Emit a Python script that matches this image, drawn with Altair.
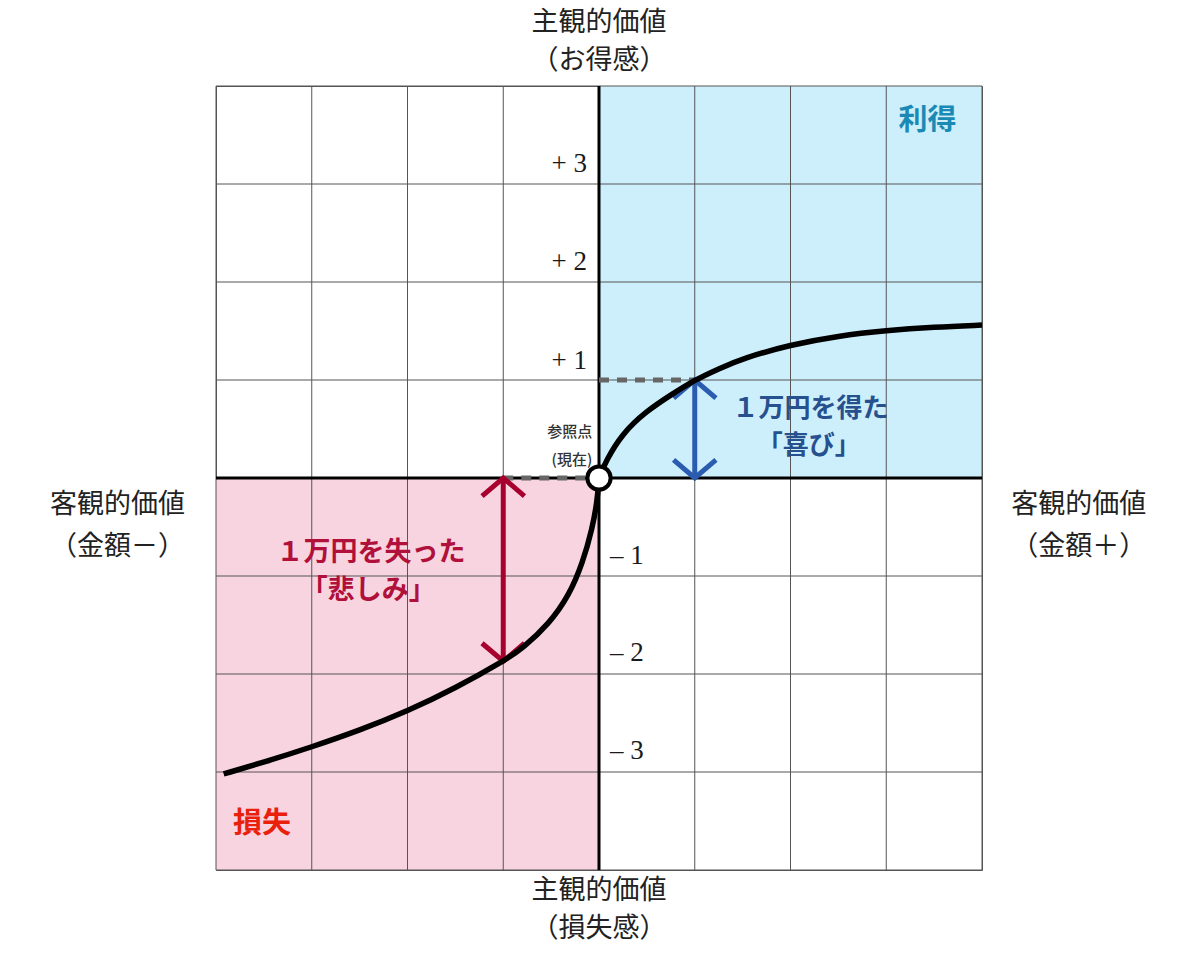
import altair as alt
import pandas as pd

# ---- data ----
grid_vals = [-4, -3, -2, -1, 0, 1, 2, 3, 4]

loss_x = [-3.92, -3.5, -3.0, -2.5, -2.0, -1.5, -1.0, -0.8, -0.52, -0.31, -0.17, -0.07, -0.018, 0.0]
loss_y = [-3.02, -2.9, -2.745, -2.575, -2.38, -2.145, -1.87, -1.74, -1.488, -1.194, -0.865, -0.515, -0.234, 0.0]
gain_x = [0.0, 0.07, 0.24, 0.49, 0.77, 1.0, 1.25, 1.5, 2.0, 2.5, 3.0, 3.5, 4.0]
gain_y = [0.0, 0.17, 0.45, 0.68, 0.86, 1.0, 1.115, 1.22, 1.36, 1.45, 1.505, 1.54, 1.56]

quad_x = [0, -4]
quad_x2 = [4, 0]
quad_y = [0, -4]
quad_y2 = [4, 0]
quad_color = ["#cdeffb", "#f8d4e0"]

dash_x = [0, -1]
dash_x2 = [1, 0]
dash_y = [1, 0]

arrow_x = [1, -1]
arrow_top = [1.0, 0.0]
arrow_bottom = [0.0, -1.87]
arrow_color = ["#2a5cb0", "#a8002e"]

plus_labels = ["+ 3", "+ 2", "+ 1"]
plus_y = [3.2, 2.2, 1.19]
minus_labels = ["– 1", "– 2", "– 3"]
minus_y = [-0.8, -1.79, -2.79]

outer_text = ["主観的価値", "（お得感）", "主観的価値", "（損失感）",
              "客観的価値", "（金額－）", "客観的価値", "（金額＋）"]
outer_x = [0, 0, 0, 0, -5.03, -5.03, 5.01, 5.01]
outer_y = [4.64, 4.26, -4.21, -4.6, -0.28, -0.7, -0.28, -0.7]

gain_text = ["１万円を得た", "「喜び」"]
gain_tx = [2.21, 2.19]
gain_ty = [0.70, 0.33]
loss_text = ["１万円を失った", "「悲しみ」"]
loss_tx = [-2.38, -2.41]
loss_ty = [-0.77, -1.15]

ref_text = ["参照点", "(現在)"]
ref_y = [0.47, 0.18]

# ---- scales ----
xs = alt.Scale(domain=[-4, 4], nice=False, zero=False)
ys = alt.Scale(domain=[-4, 4], nice=False, zero=False)
X = lambda f: alt.X(f, type="quantitative", scale=xs, axis=None)
Y = lambda f: alt.Y(f, type="quantitative", scale=ys, axis=None)

JP = "Noto Sans CJK JP"

quads = alt.Chart(pd.DataFrame({"x": quad_x, "x2": quad_x2, "y": quad_y, "y2": quad_y2, "c": quad_color})).mark_rect().encode(
    x=X("x"), x2="x2", y=Y("y"), y2="y2", color=alt.Color("c:N", scale=None))

gdf = pd.DataFrame({"v": grid_vals})
vgrid = alt.Chart(gdf).mark_rule(color="#555", strokeWidth=1).encode(x=X("v"))
hgrid = alt.Chart(gdf).mark_rule(color="#555", strokeWidth=1).encode(y=Y("v"))

zdf = pd.DataFrame({"v": [0]})
vaxis = alt.Chart(zdf).mark_rule(color="#000", strokeWidth=3).encode(x=X("v"))
haxis = alt.Chart(zdf).mark_rule(color="#000", strokeWidth=3).encode(y=Y("v"))

dashes = alt.Chart(pd.DataFrame({"x": dash_x, "x2": dash_x2, "y": dash_y})).mark_rule(
    color="#666", strokeWidth=5, strokeDash=[10, 8]).encode(x=X("x"), x2="x2", y=Y("y"))

adf = pd.DataFrame({"x": arrow_x, "top": arrow_top, "bot": arrow_bottom, "c": arrow_color})
shafts = alt.Chart(adf).mark_rule(strokeWidth=5).encode(
    x=X("x"), y=Y("top"), y2="bot", color=alt.Color("c:N", scale=None))
up_heads = alt.Chart(adf).mark_point(shape="M -1 0.85 L 0 0 L 1 0.85", size=1800, filled=False,
                                     strokeWidth=5, opacity=1, strokeJoin="miter").encode(
    x=X("x"), y=Y("top"), color=alt.Color("c:N", scale=None))
down_heads = alt.Chart(adf).mark_point(shape="M -1 -0.85 L 0 0 L 1 -0.85", size=1800, filled=False,
                                       strokeWidth=5, opacity=1, strokeJoin="miter").encode(
    x=X("x"), y=Y("bot"), color=alt.Color("c:N", scale=None))

curve_df = pd.concat([
    pd.DataFrame({"x": loss_x, "y": loss_y, "seg": "loss"}),
    pd.DataFrame({"x": gain_x, "y": gain_y, "seg": "gain"}),
])
curve = alt.Chart(curve_df).mark_line(
    color="#000", strokeWidth=5.5, interpolate="basis", strokeCap="butt").encode(
    x=X("x"), y=Y("y"), detail="seg:N")

origin = alt.Chart(pd.DataFrame({"x": [0], "y": [0]})).mark_point(
    shape="circle", size=540, filled=True, fill="#fff", stroke="#000", strokeWidth=4, opacity=1).encode(
    x=X("x"), y=Y("y"))

plus_t = alt.Chart(pd.DataFrame({"t": plus_labels, "y": plus_y, "x": [-0.125] * 3})).mark_text(
    font="Liberation Serif", fontSize=27, align="right", baseline="middle", color="#1a1a1a").encode(
    x=X("x"), y=Y("y"), text="t:N")
minus_t = alt.Chart(pd.DataFrame({"t": minus_labels, "y": minus_y, "x": [0.115] * 3})).mark_text(
    font="Liberation Serif", fontSize=27, align="left", baseline="middle", color="#1a1a1a").encode(
    x=X("x"), y=Y("y"), text="t:N")

outer_t = alt.Chart(pd.DataFrame({"t": outer_text, "x": outer_x, "y": outer_y})).mark_text(
    font=JP, fontSize=27, align="center", baseline="middle", color="#222").encode(
    x=X("x"), y=Y("y"), text="t:N")

gain_t = alt.Chart(pd.DataFrame({"t": gain_text, "x": gain_tx, "y": gain_ty})).mark_text(
    font=JP, fontSize=26, fontWeight="bold", align="center", baseline="middle", color="#27508f").encode(
    x=X("x"), y=Y("y"), text="t:N")
loss_t = alt.Chart(pd.DataFrame({"t": loss_text, "x": loss_tx, "y": loss_ty})).mark_text(
    font=JP, fontSize=27, fontWeight="bold", align="center", baseline="middle", color="#b0103a").encode(
    x=X("x"), y=Y("y"), text="t:N")

ref_t = alt.Chart(pd.DataFrame({"t": ref_text, "x": [-0.07] * 2, "y": ref_y})).mark_text(
    font=JP, fontSize=15, fontWeight=500, align="right", baseline="middle", color="#333").encode(
    x=X("x"), y=Y("y"), text="t:N")

gain_lbl = alt.Chart(pd.DataFrame({"t": ["利得"], "x": [3.43], "y": [3.64]})).mark_text(
    font=JP, fontSize=29, fontWeight="bold", align="center", baseline="middle", color="#1a8ab5").encode(
    x=X("x"), y=Y("y"), text="t:N")
loss_lbl = alt.Chart(pd.DataFrame({"t": ["損失"], "x": [-3.52], "y": [-3.53]})).mark_text(
    font=JP, fontSize=29, fontWeight="bold", align="center", baseline="middle", color="#e8200c").encode(
    x=X("x"), y=Y("y"), text="t:N")

chart = alt.layer(
    quads, vgrid, hgrid, vaxis, haxis, dashes, shafts, up_heads, down_heads, curve, origin,
    plus_t, minus_t, outer_t, gain_t, loss_t, ref_t, gain_lbl, loss_lbl
).properties(
    width=766, height=784,
    padding={"left": 216, "top": 86, "right": 218, "bottom": 83},
    autosize=alt.AutoSizeParams(type="none"),
    background="#ffffff",
).configure_view(stroke="#555", strokeWidth=1)

chart.save("out.html", embed_options={"renderer": "svg", "actions": False})
